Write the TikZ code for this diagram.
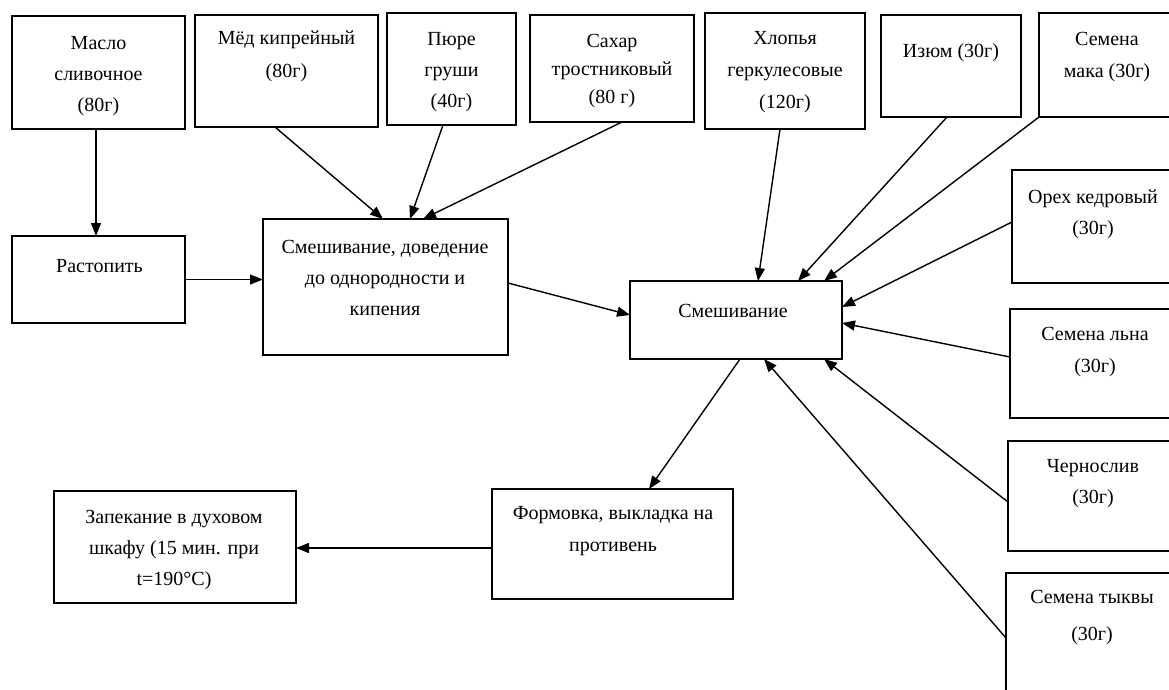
\documentclass[tikz,border=0pt]{standalone}
\usepackage{fontspec}
\setmainfont{Liberation Serif}
\usetikzlibrary{arrows.meta,calc}
\begin{document}
\begin{tikzpicture}[x=1pt,y=-1pt,
  box/.style={draw=black,line width=1.6pt,inner sep=0pt,outer sep=0pt,anchor=north west},
  txt/.style={align=center,inner sep=0pt,yshift=-2.5pt,font=\fontsize{20}{31}\selectfont,
    execute at begin node=\strut,execute at end node=\strut},
  conn/.style={draw=black,line width=1.4pt,-{Triangle[length=13pt,width=10pt]}}]
\clip (0,0) rectangle (1169,689);
\fill[white] (0,0) rectangle (1169,689);
% boxes
\node[box,minimum width=173,minimum height=113] (maslo) at (12,16) {};
\node[box,minimum width=183,minimum height=112] (med) at (195,15) {};
\node[box,minimum width=129,minimum height=112] (pyure) at (387,13) {};
\node[box,minimum width=164,minimum height=107] (sahar) at (530,15) {};
\node[box,minimum width=160,minimum height=116] (hlop) at (705,13) {};
\node[box,minimum width=140,minimum height=102] (izyum) at (881,15) {};
\node[box,minimum width=170,minimum height=104] (mak) at (1039,13) {};
\node[box,minimum width=190,minimum height=113] (oreh) at (1012,170) {};
\node[box,minimum width=190,minimum height=109] (lna) at (1010,309) {};
\node[box,minimum width=190,minimum height=110] (chern) at (1008,441) {};
\node[box,minimum width=190,minimum height=150] (tykv) at (1006,573) {};
\node[box,minimum width=173,minimum height=87] (rast) at (12,236) {};
\node[box,minimum width=245,minimum height=136] (dov) at (263,219) {};
\node[box,minimum width=212,minimum height=78] (smesh) at (630,281) {};
\node[box,minimum width=242,minimum height=112] (zap) at (54,491) {};
\node[box,minimum width=241,minimum height=110] (form) at (492,489) {};
% texts
\node[txt] (maslo-t) at (98.5,76.5) {Масло\\сливочное\\(80г)};
\node[txt,font=\fontsize{20}{33}\selectfont] (med-t) at (286.5,57) {Мёд кипрейный\\(80г)};
\node[txt] (pyure-t) at (451.5,72.5) {Пюре\\груши\\(40г)};
\node[txt,font=\fontsize{20}{28}\selectfont] (sahar-t) at (612,70.5) {Сахар\\тростниковый\\(80 г)};
\node[txt,font=\fontsize{20}{32}\selectfont] (hlop-t) at (785,72.5) {Хлопья\\геркулесовые\\(120г)};
\node[txt] (izyum-t) at (951,48.5) {Изюм (30г)};
\node[txt,font=\fontsize{20}{32}\selectfont] (mak-t) at (1107,57.5) {Семена\\мака (30г)};
\node[txt] (oreh-t) at (1093,214) {Орех кедровый\\(30г)};
\node[txt,font=\fontsize{20}{32}\selectfont] (lna-t) at (1095,352.5) {Семена льна\\(30г)};
\node[txt] (chern-t) at (1093,484) {Чернослив\\(30г)};
\node[txt,font=\fontsize{20}{37}\selectfont] (tykv-t) at (1092,618) {Семена тыквы\\(30г)};
\node[txt] (rast-t) at (99.5,263.5) {Растопить};
\node[txt] (dov-t) at (385,280.5) {Смешивание, доведение\\до однородности и\\кипения};
\node[txt] (smesh-t) at (733,309) {Смешивание};
\node[txt] (zap-t) at (174,550.5) {Запекание в духовом\\шкафу (15 мин. при\\t=190°C)};
\node[txt,font=\fontsize{20}{32}\selectfont] (form-t) at (613,531.5) {Формовка, выкладка на\\противень};
% connectors
\draw[conn] (96,0 |- maslo.south) -- (96,0 |- rast.north);
\draw[conn] (rast.east) -- (rast.east -| dov.west);
\draw[conn] (275,0 |- med.south) -- (383,0 |- dov.north);
\draw[conn] (443,0 |- pyure.south) -- (410,0 |- dov.north);
\draw[conn] (622,0 |- sahar.south) -- (423,0 |- dov.north);
\draw[conn] (dov.east |- 0,283) -- (smesh.west |- 0,315);
\draw[conn] (780,0 |- hlop.south) -- (758,0 |- smesh.north);
\draw[conn] (947,0 |- izyum.south) -- (798,0 |- smesh.north);
\draw[conn] (mak.south west) -- (824,0 |- smesh.north);
\draw[conn] (oreh.west |- 0,222) -- (smesh.east |- 0,307);
\draw[conn] (lna.west |- 0,357) -- (smesh.east |- 0,323);
\draw[conn] (chern.west |- 0,502) -- (824,0 |- smesh.south);
\draw[conn] (tykv.west |- 0,638) -- (764,0 |- smesh.south);
\draw[conn] (740,0 |- smesh.south) -- (649,0 |- form.north);
\draw[conn] (form.west |- 0,548) -- (zap.east |- 0,548);
\end{tikzpicture}
\end{document}
